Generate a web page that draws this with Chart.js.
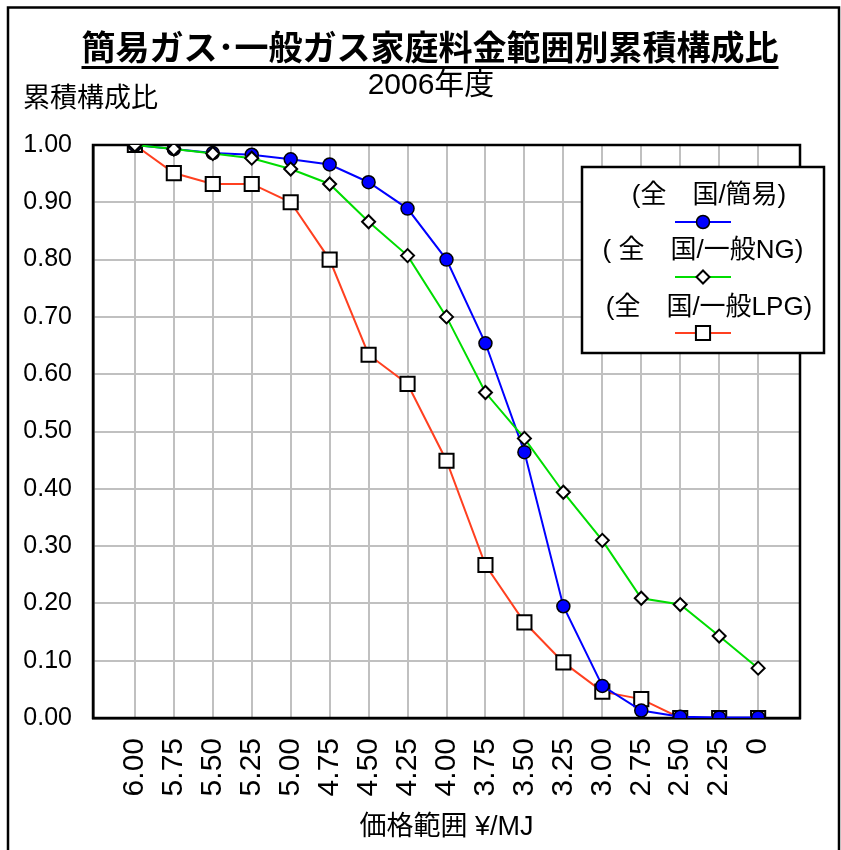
<!DOCTYPE html>
<html>
<head>
<meta charset="utf-8">
<script src="https://cdn.jsdelivr.net/npm/chart.js@4/dist/chart.umd.min.js"></script>
<style>
  body { margin: 0; background: #fff; }
</style>
</head>
<body>
<canvas id="chart" width="841" height="850"></canvas>
<script>
// 価格範囲 (x軸)
var categorias = ['6.00','5.75','5.50','5.25','5.00','4.75','4.50','4.25','4.00','3.75','3.50','3.25','3.00','2.75','2.50','2.25','0'];

// 累積構成比
var kani = [1.000, 0.993, 0.986, 0.983, 0.975, 0.966, 0.935, 0.889, 0.800, 0.654, 0.464, 0.195, 0.056, 0.013, 0.002, 0.001, 0.001];
var ippanNG = [1.000, 0.993, 0.985, 0.977, 0.958, 0.932, 0.866, 0.807, 0.700, 0.568, 0.488, 0.394, 0.310, 0.209, 0.198, 0.143, 0.087];
var ippanLPG = [1.000, 0.951, 0.932, 0.932, 0.900, 0.800, 0.634, 0.583, 0.449, 0.267, 0.167, 0.097, 0.046, 0.033, 0.000, 0.000, 0.000];

var yTicks = [0, 0.1, 0.2, 0.3, 0.4, 0.5, 0.6, 0.7, 0.8, 0.9, 1.0];

var titulo = '簡易ガス･一般ガス家庭料金範囲別累積構成比';
var subtitulo = '2006年度';
var ejeY = '累積構成比';
var ejeX = '価格範囲 ¥/MJ';

var FUENTE = "'Liberation Sans', 'Noto Sans CJK JP', sans-serif";
Chart.defaults.font.family = FUENTE;
Chart.defaults.color = '#000';

function puntos(arr){
  return arr.map(function(v, i){ return {x: i, y: v}; });
}

// titulo, bordes y leyenda dibujados a mano
var decoracion = {
  id: 'decoracion',
  beforeDraw: function(chart){
    var ctx = chart.ctx;
    ctx.save();
    ctx.fillStyle = '#fff';
    ctx.fillRect(0, 0, chart.width, chart.height);
    ctx.strokeStyle = '#000';
    ctx.lineWidth = 2.5;
    ctx.strokeRect(8, 7.5, 831, 900);

    ctx.fillStyle = '#000';
    ctx.textAlign = 'center';
    ctx.textBaseline = 'middle';
    ctx.font = "bold 34px " + FUENTE;
    ctx.fillText(titulo, 430, 51);
    var w = ctx.measureText(titulo).width;
    ctx.fillRect(430 - w / 2, 66, w, 3);

    ctx.font = "30px " + FUENTE;
    ctx.fillText(subtitulo, 431, 86);

    ctx.textAlign = 'left';
    ctx.font = "27px " + FUENTE;
    ctx.fillText(ejeY, 23, 100);
    ctx.restore();
  },
  beforeDatasetsDraw: function(chart){
    var a = chart.chartArea;
    var ctx = chart.ctx;
    ctx.save();
    ctx.strokeStyle = '#000';
    ctx.lineWidth = 2.5;
    ctx.strokeRect(a.left, a.top, a.right - a.left, a.bottom - a.top);
    ctx.restore();
  },
  afterDraw: function(chart){
    var ctx = chart.ctx;
    ctx.save();
    ctx.fillStyle = '#fff';
    ctx.fillRect(582, 167, 242, 186);
    ctx.strokeStyle = '#000';
    ctx.lineWidth = 2.5;
    ctx.strokeRect(582, 167, 242, 186);

    var textY = [196, 251, 308];
    var lineY = [222, 277, 333];
    var textX = [709, 703, 709];
    ctx.textAlign = 'center';
    ctx.textBaseline = 'middle';
    ctx.font = "26px " + FUENTE;
    chart.data.datasets.forEach(function(ds, i){
      ctx.fillStyle = '#000';
      ctx.fillText(ds.label, textX[i], textY[i]);
      ctx.strokeStyle = ds.borderColor;
      ctx.lineWidth = 2;
      ctx.beginPath();
      ctx.moveTo(675, lineY[i]);
      ctx.lineTo(731, lineY[i]);
      ctx.stroke();
      ctx.fillStyle = ds.pointBackgroundColor;
      ctx.strokeStyle = ds.pointBorderColor;
      ctx.lineWidth = ds.pointBorderWidth;
      Chart.helpers.drawPoint(ctx, {
        pointStyle: ds.pointStyle,
        rotation: 0,
        radius: ds.pointRadius,
        borderWidth: ds.pointBorderWidth
      }, 703, lineY[i]);
    });
    ctx.restore();
  }
};

var datos = {
  datasets: [{
    label: '(全　国/簡易)',
    data: puntos(kani),
    borderColor: '#0000ff',
    borderWidth: 2,
    pointStyle: 'circle',
    pointRadius: 6.5,
    pointBackgroundColor: '#0000ff',
    pointBorderColor: '#000',
    pointBorderWidth: 1.5,
    order: 2
  },
  {
    label: '( 全　国/一般NG)',
    data: puntos(ippanNG),
    borderColor: '#00dd00',
    borderWidth: 2,
    pointStyle: 'rectRot',
    pointRadius: 6.5,
    pointBackgroundColor: '#fff',
    pointBorderColor: '#000',
    pointBorderWidth: 2,
    order: 1
  },
  {
    label: '(全　国/一般LPG)',
    data: puntos(ippanLPG),
    borderColor: '#ff4020',
    borderWidth: 2,
    pointStyle: 'rect',
    pointRadius: 10,
    pointBackgroundColor: '#fff',
    pointBorderColor: '#000',
    pointBorderWidth: 2,
    order: 3
  }]
};

var canvas = document.getElementById('chart').getContext('2d');
window.grafico = new Chart(canvas, {
  type: 'line',
  data: datos,
  plugins: [decoracion],
  options: {
    responsive: false,
    animation: false,
    layout: { padding: { top: 145, left: 10, right: 41, bottom: 0 } },
    plugins: {
      legend: { display: false },
      tooltip: { enabled: false }
    },
    scales: {
      x: {
        type: 'linear',
        min: -1.075,
        max: 17.075,
        afterFit: function(scale){ scale.height = 132; },
        afterBuildTicks: function(scale){
          scale.ticks = categorias.map(function(c, i){ return {value: i}; });
        },
        ticks: {
          autoSkip: false,
          minRotation: 90,
          maxRotation: 90,
          padding: 20,
          font: { size: 30 },
          callback: function(v){ return categorias[v]; }
        },
        grid: { color: '#c0c0c0', lineWidth: 2, drawTicks: false },
        border: { color: '#000', width: 2.5 },
        title: {
          display: true,
          text: ejeX,
          font: { size: 27 },
          padding: { top: 0, bottom: 6 }
        }
      },
      y: {
        min: 0,
        max: 1,
        afterFit: function(scale){ scale.width = 83; },
        afterBuildTicks: function(scale){
          scale.ticks = yTicks.map(function(v){ return {value: v}; });
        },
        ticks: {
          padding: 21,
          font: { size: 25 },
          callback: function(v){ return v.toFixed(2); }
        },
        grid: { color: '#c0c0c0', lineWidth: 2, drawTicks: false },
        border: { color: '#000', width: 2.5 }
      }
    }
  }
});
</script>
</body>
</html>
